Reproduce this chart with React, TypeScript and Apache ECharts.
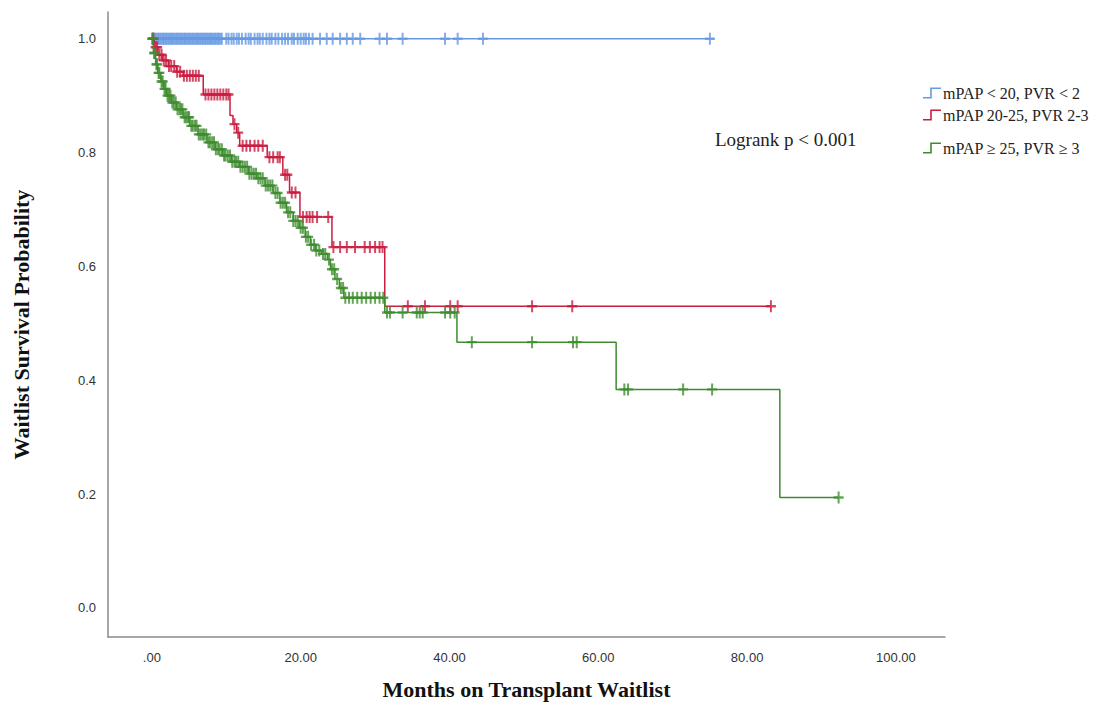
import React, { useEffect, useRef } from "react";
import * as echarts from "echarts";

// ---- Data ----
const seriesNames = ["mPAP < 20, PVR < 2", "mPAP 20-25, PVR 2-3", "mPAP \u2265 25, PVR \u2265 3"];
const seriesColors = ["#6798e2", "#c91d40", "#3f8c30"];

const xTicks = [0, 20, 40, 60, 80, 100];
const yTicks = [0, 0.2, 0.4, 0.6, 0.8, 1.0];

// Kaplan-Meier steps: [month of drop, survival after the drop]
const blueSteps: number[][] = [[0, 1.0], [75.6, 1.0]];
const redSteps: number[][] = [
  [0, 1.0], [0.3, 0.985], [0.8, 0.972], [1.4, 0.962], [2.2, 0.952], [3.3, 0.942],
  [4.2, 0.935], [6.9, 0.902], [10.5, 0.865], [10.9, 0.85], [11.4, 0.835],
  [11.8, 0.812], [15.5, 0.792], [17.6, 0.761], [18.5, 0.73], [19.9, 0.687],
  [24.2, 0.634], [31.3, 0.53], [83.2, 0.53],
];
const greenSteps: number[][] = [
  [0, 1.0], [0.2, 0.975], [0.5, 0.955], [0.8, 0.94], [1.2, 0.925], [1.6, 0.912],
  [2.0, 0.9], [2.6, 0.888], [3.3, 0.876], [4.2, 0.862], [5.1, 0.847], [6.2, 0.832],
  [7.4, 0.818], [8.5, 0.806], [9.5, 0.795], [10.7, 0.784], [11.8, 0.775],
  [13.0, 0.763], [14.1, 0.755], [15.2, 0.742], [16.3, 0.729], [17.2, 0.712],
  [18.1, 0.695], [19.0, 0.68], [19.8, 0.668], [20.6, 0.652], [21.3, 0.638],
  [22.0, 0.628], [22.8, 0.622], [23.6, 0.612], [24.0, 0.595], [24.6, 0.578],
  [25.2, 0.562], [25.8, 0.545], [31.3, 0.519], [41.0, 0.467], [62.4, 0.384],
  [84.4, 0.194], [92.3, 0.194],
];

// Censor marks (months)
const blueCensor = [
  0.1, 0.25, 0.45, 0.6, 0.8, 0.95, 1.15, 1.3, 1.5, 1.65, 1.85, 2.0, 2.2, 2.35, 2.55,
  2.7, 2.9, 3.05, 3.25, 3.4, 3.6, 3.75, 3.95, 4.1, 4.3, 4.45, 4.65, 4.8, 5.0, 5.15,
  5.35, 5.5, 5.7, 5.85, 6.05, 6.2, 6.4, 6.55, 6.75, 6.9, 7.1, 7.25, 7.45, 7.6, 7.8,
  7.95, 8.15, 8.3, 8.5, 8.65, 8.85, 9.0, 9.2, 9.4,
  10.0, 10.3, 10.7, 11.0, 11.4, 11.7, 12.1, 12.6, 13.0, 13.3, 13.8, 14.2, 14.5,
  14.9, 15.4, 15.8, 16.1, 16.6, 17.0, 17.5, 17.9, 18.3, 18.8, 19.1, 19.6, 20.0,
  20.4, 20.7, 21.1, 21.6, 22.6, 23.5, 24.3, 25.3, 26.2, 27.0, 28.0,
  30.6, 31.6, 33.7, 39.4, 41.1, 44.5, 75.0,
];
const redCensor = [
  0.2, 0.5, 0.7, 1.0, 1.3, 1.6, 1.9, 2.3, 2.6, 3.0, 3.4, 3.8, 4.3, 4.7, 5.1, 5.5,
  5.9, 6.3, 7.2, 7.6, 8.0, 8.4, 8.8, 9.2, 9.6, 10.0, 10.3, 11.1, 11.6, 12.2, 12.7,
  13.2, 13.8, 14.3, 14.9, 15.8, 16.3, 16.9, 17.2, 17.9, 18.2, 18.8, 19.3, 20.3,
  20.8, 21.2, 21.6, 22.2, 23.7, 24.4, 25.3, 26.2, 27.3, 28.6, 29.3, 30.0, 30.6,
  31.0, 34.4, 36.7, 40.1, 41.1, 51.1, 56.5, 83.2,
];
const greenCensor = [
  0.05, 0.15, 0.3, 0.4, 0.6, 0.7, 0.9, 1.0, 1.3, 1.45, 1.7, 1.85, 2.1, 2.3, 2.5,
  2.75, 2.95, 3.2, 3.45, 3.7, 3.9, 4.1, 4.4, 4.6, 4.85, 5.0, 5.3, 5.5, 5.8, 6.0,
  6.3, 6.55, 6.8, 7.0, 7.3, 7.6, 7.8, 8.1, 8.35, 8.6, 8.9, 9.1, 9.4, 9.7, 9.9,
  10.2, 10.5, 10.8, 11.1, 11.3, 11.6, 11.9, 12.2, 12.5, 12.8, 13.1, 13.4, 13.7,
  14.0, 14.3, 14.6, 14.9, 15.3, 15.6, 15.9, 16.2, 16.6, 16.9, 17.3, 17.6, 17.9,
  18.3, 18.6, 19.0, 19.3, 19.6, 20.0, 20.3, 20.7, 21.0, 21.4, 21.8, 22.1, 22.5,
  23.0, 23.3, 23.8, 24.2, 24.5, 24.9, 25.4, 25.7,
  26.0, 26.5, 27.0, 27.6, 28.2, 28.8, 29.4, 30.0, 30.6, 31.1,
  31.6, 32.0, 33.7, 35.6, 36.0, 36.4, 39.4, 40.1, 40.7,
  43.0, 51.1, 56.6, 57.1, 63.5, 64.0, 71.4, 75.3, 92.3,
];

const logrankText = "Logrank p < 0.001";
const xTitle = "Months on Transplant Waitlist";
const yTitle = "Waitlist Survival Probability";

// ---- helpers ----
function survivalAt(steps: number[][], t: number): number {
  let v = steps[0][1];
  for (const [st, sv] of steps) {
    if (st <= t) v = sv;
    else break;
  }
  return v;
}

const plusSymbol =
  "path://M4,0 H6 V4 H10 V6 H6 V10 H4 V6 H0 V4 H4 Z";
const stepIcon = "path://M0,9.4 H7.2 V0 H18 V1.6 H8.8 V11 H0 Z";

export default function App() {
  const ref = useRef<HTMLDivElement>(null);

  useEffect(() => {
    if (!ref.current) return;
    const chart = echarts.init(ref.current, undefined, { renderer: "svg" });

    const stepsList = [blueSteps, redSteps, greenSteps];
    const censorList = [blueCensor, redCensor, greenCensor];

    const series: any[] = [];
    for (let i = 0; i < 3; i++) {
      series.push({
        name: seriesNames[i],
        type: "line",
        step: "end",
        data: stepsList[i],
        showSymbol: false,
        symbol: "none",
        lineStyle: { color: seriesColors[i], width: 1.5 },
        itemStyle: { color: seriesColors[i] },
        z: 2 + i,
      });
      series.push({
        name: seriesNames[i],
        type: "scatter",
        data: censorList[i].map((t) => [t, survivalAt(stepsList[i], t)]),
        symbol: plusSymbol,
        symbolSize: [10, 12],
        itemStyle: { color: seriesColors[i] },
        z: 2 + i,
      });
    }

    const legendTops = [80, 102, 135];
    const legend = seriesNames.map((n, i) => ({
      data: [{ name: n, icon: stepIcon }],
      left: 918,
      top: legendTops[i],
      orient: "vertical",
      itemWidth: 18,
      itemHeight: 11,
      selectedMode: false,
      textStyle: {
        fontFamily: "Liberation Serif",
        fontSize: 16,
        color: "#222",
        padding: [0, 0, 0, -3],
      },
    }));

    chart.setOption({
      animation: false,
      backgroundColor: "#ffffff",
      grid: { left: 108, right: 167, top: 12, bottom: 69, containLabel: false },
      legend,
      xAxis: {
        type: "value",
        min: -5.9,
        max: 106.6,
        name: xTitle,
        nameLocation: "middle",
        nameGap: 41,
        nameTextStyle: {
          fontFamily: "Liberation Serif",
          fontWeight: "bold",
          fontSize: 22,
          color: "#111",
        },
        axisLine: { show: true, onZero: false, lineStyle: { color: "#8a8a8a", width: 1.5 } },
        axisTick: { show: false },
        splitLine: { show: false },
        axisLabel: {
          customValues: xTicks,
          formatter: (v: number) => (v === 0 ? ".00" : v.toFixed(2)),
          fontFamily: "Liberation Sans",
          fontSize: 13,
          color: "#333",
          margin: 14,
        },
      },
      yAxis: {
        type: "value",
        min: -0.051,
        max: 1.047,
        name: yTitle,
        nameLocation: "middle",
        nameGap: 76,
        nameRotate: 90,
        nameTextStyle: {
          fontFamily: "Liberation Serif",
          fontWeight: "bold",
          fontSize: 22,
          color: "#111",
        },
        axisLine: { show: true, onZero: false, lineStyle: { color: "#8a8a8a", width: 1.5 } },
        axisTick: { show: false },
        splitLine: { show: false },
        axisLabel: {
          customValues: yTicks,
          formatter: (v: number) => v.toFixed(1),
          fontFamily: "Liberation Sans",
          fontSize: 13,
          color: "#333",
          margin: 12,
        },
      },
      graphic: [
        {
          type: "text",
          left: 715,
          top: 130,
          style: {
            text: logrankText,
            fontFamily: "Liberation Serif",
            fontSize: 19,
            fill: "#222",
          },
        },
      ],
      series,
    });

    return () => chart.dispose();
  }, []);

  return (
    <div
      ref={ref}
      style={{ position: "fixed", left: 0, top: 0, width: 1112, height: 706 }}
    />
  );
}
